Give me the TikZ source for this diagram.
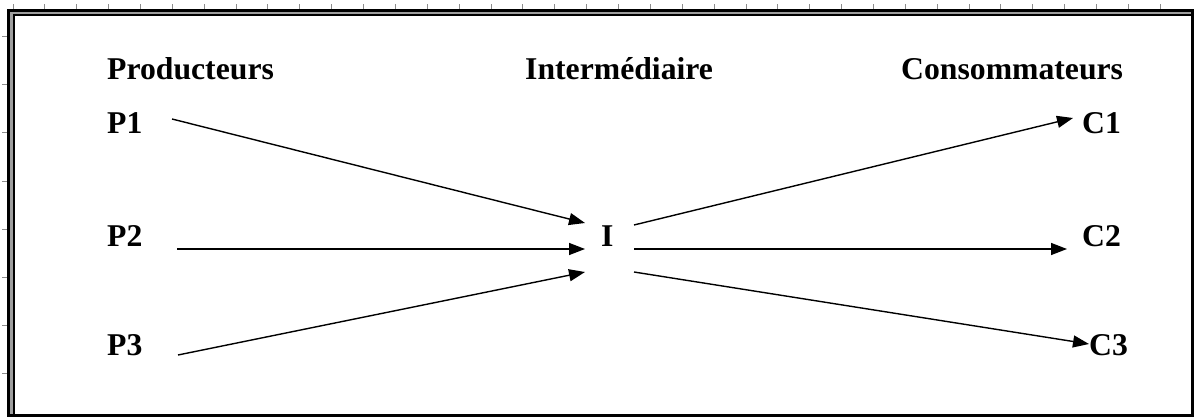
\documentclass[tikz,border=0pt]{standalone}
\usepackage{fontspec}
\setmainfont{Liberation Serif}
\usetikzlibrary{arrows.meta}
\definecolor{rulegray}{gray}{0.55}
\definecolor{bandgray}{gray}{0.62}
\tikzset{
  lbl/.style={inner sep=0pt, anchor=base west, font=\fontsize{31.7}{38}\selectfont\bfseries},
  flow/.style={line width=1.4pt, -{Triangle[length=16pt,width=12pt]}},
  tick/.style={draw=rulegray, line width=1pt}
}
\begin{document}
\begin{tikzpicture}[x=1pt, y=-1pt]
  \useasboundingbox (0,0) rectangle (1194,417);
  % ruler ticks along the top and the left side
  \foreach \k in {0,...,36} {
    \draw[tick] ({13+31.87*\k},4.5) -- ({13+31.87*\k},9);
  }
  \foreach \k in {0,...,7} {
    \draw[tick] (2,{37+48*\k}) -- (7.5,{37+48*\k});
  }
  % page frame: grey band with a double edge on top and left
  \fill[bandgray] (8.7,10.7) rectangle (13.8,415.5);
  \fill[bandgray] (8.7,10.7) rectangle (1192.3,15);
  \draw[black, line width=1.8pt] (13.8,415.5) -- (13.8,15) -- (1192.3,15);
  \draw[black, line width=3pt] (8.7,10.7) rectangle (1192.3,415.5);

  % column headings
  \node[lbl] (hp) at (107,80) {Producteurs};
  \node[lbl] (hi) at (525,80) {Intermédiaire};
  \node[lbl] (hc) at (901,80) {Consommateurs};

  % producers, intermediary, consumers
  \node[lbl] (P1) at (107,134) {P1};
  \node[lbl] (P2) at (107,246) {P2};
  \node[lbl] (P3) at (107,355) {P3};
  \node[lbl] (I)  at (601,246) {I};
  \node[lbl] (C1) at (1082,134) {C1};
  \node[lbl] (C2) at (1082,246) {C2};
  \node[lbl] (C3) at (1089,355) {C3};

  % arrow end points
  \coordinate (p1o) at (172,119);
  \coordinate (p2o) at (177,249);
  \coordinate (p3o) at (178,355);
  \coordinate (ia)  at (585,223);
  \coordinate (ib)  at (585,249);
  \coordinate (ic)  at (585,272);
  \coordinate (ja)  at (634,225);
  \coordinate (jb)  at (634,249);
  \coordinate (jc)  at (634,272);
  \coordinate (c1i) at (1073,118);
  \coordinate (c2i) at (1067,249);
  \coordinate (c3i) at (1089,344);

  \draw[flow] (p1o) -- (ia);
  \draw[flow] (p2o) -- (ib);
  \draw[flow] (p3o) -- (ic);
  \draw[flow] (ja) -- (c1i);
  \draw[flow] (jb) -- (c2i);
  \draw[flow] (jc) -- (c3i);
\end{tikzpicture}
\end{document}
